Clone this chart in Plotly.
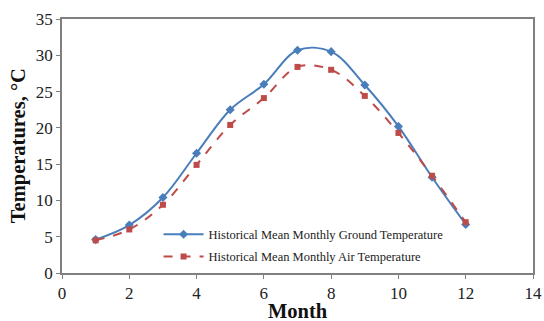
import plotly.graph_objects as go

months = [1, 2, 3, 4, 5, 6, 7, 8, 9, 10, 11, 12]
ground = [4.6, 6.6, 10.4, 16.5, 22.5, 26.0, 30.7, 30.5, 25.9, 20.2, 13.2, 6.7]
air = [4.5, 6.0, 9.4, 14.9, 20.4, 24.1, 28.4, 28.0, 24.4, 19.3, 13.4, 7.0]

x_ticks = [0, 2, 4, 6, 8, 10, 12, 14]
y_ticks = [0, 5, 10, 15, 20, 25, 30, 35]

fig = go.Figure()
fig.add_trace(go.Scatter(
    x=months, y=ground, mode="lines+markers",
    name="Historical Mean Monthly Ground Temperature", legendgroup="g1",
    line=dict(color="#4A7EBB", width=2, shape="spline", smoothing=1),
    marker=dict(symbol="diamond", size=7, color="#4A7EBB"),
))
fig.add_trace(go.Scatter(
    x=months, y=air, mode="lines+markers",
    name="Historical Mean Monthly Air Temperature", legendgroup="g2",
    line=dict(color="#BE4B48", width=2, dash="dash", shape="spline", smoothing=1),
    marker=dict(symbol="square", size=6, color="#BE4B48"),
))

fig.update_layout(
    width=544, height=321,
    margin=dict(l=62, r=11, t=19, b=48, autoexpand=False),
    paper_bgcolor="white", plot_bgcolor="white",
    font=dict(family="Liberation Serif", color="#222222"),
    showlegend=True,
    legend=dict(
        x=0.205, y=0.21, xanchor="left", yanchor="top",
        bgcolor="rgba(0,0,0,0)", font=dict(size=12.5, family="Liberation Serif"),
        itemwidth=40, tracegroupgap=3,
    ),
    annotations=[
        dict(text="<b>Month</b>", x=0.5, y=-0.148, xref="paper", yref="paper",
             xanchor="center", yanchor="middle", showarrow=False,
             font=dict(size=20.5, family="Liberation Serif", color="#111111")),
        dict(text="<b>Temperatures, °C</b>", x=-0.093, y=0.5, xref="paper", yref="paper",
             xanchor="center", yanchor="middle", showarrow=False, textangle=-90,
             font=dict(size=20.5, family="Liberation Serif", color="#111111")),
    ],
)
fig.update_xaxes(
    range=[0, 14], tickvals=x_ticks, ticks="outside", ticklen=4, tickcolor="#808080",
    showline=True, linecolor="#808080", linewidth=1.5, mirror=True, showgrid=False, zeroline=False,
    tickfont=dict(size=17, family="Liberation Serif"), automargin=False,
)
fig.update_yaxes(
    range=[0, 35], tickvals=y_ticks, ticks="outside", ticklen=4, tickcolor="#808080",
    showline=True, linecolor="#808080", linewidth=1.5, mirror=True, showgrid=False, zeroline=False,
    tickfont=dict(size=17, family="Liberation Serif"), automargin=False,
)

fig.write_html("out.html")
